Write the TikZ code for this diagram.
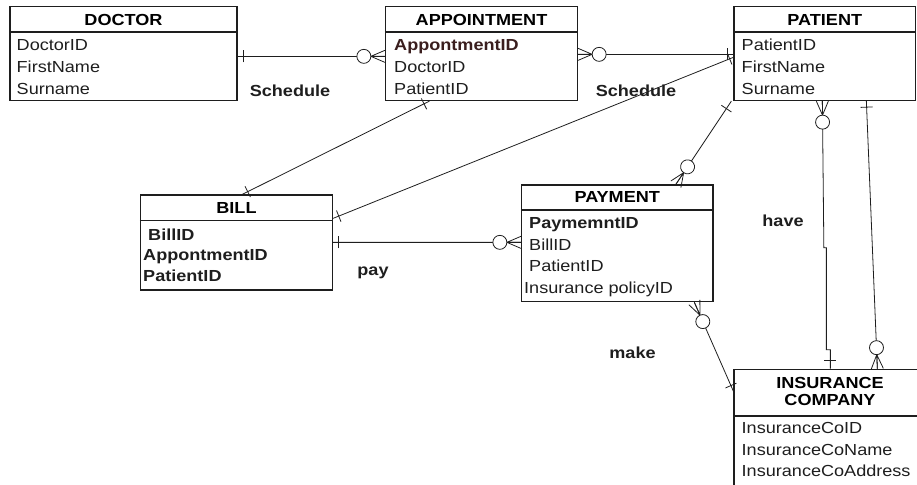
\documentclass[tikz,border=0pt]{standalone}
\usepackage{fontspec}
\setmainfont{Liberation Sans}[FakeStretch=1.13]
\usetikzlibrary{decorations.markings}

\definecolor{ink}{HTML}{1E1E1E}
\definecolor{keyred}{HTML}{3A1E1E}

\tikzset{
  entity/.style={draw=ink, line width=1.3pt, inner sep=0pt},
  divider/.style={draw=ink, line width=1.3pt},
  title/.style={font=\fontsize{16}{17.4}\selectfont\bfseries, anchor=base, inner sep=0pt},
  attrs/.style={anchor=base west, align=left, inner sep=0pt, text=ink},
  relname/.style={font=\fontsize{16}{19}\selectfont\bfseries, anchor=base, inner sep=0pt, text=ink},
  rel/.style={draw=ink, line width=0.8pt},
  one start/.style={postaction={decorate,decoration={markings,
      mark=at position #1 with {\draw[rel] (0,-6pt) -- (0,6pt);}}}},
  one start/.default=6pt,
  one end/.style={postaction={decorate,decoration={markings,
      mark=at position -#1 with {\draw[rel] (0,-6pt) -- (0,6pt);}}}},
  one end/.default=6pt,
  many start/.style={postaction={decorate,decoration={markings,
      mark=at position 14pt with {\draw[rel] (-14pt,-6pt) -- (0,0) -- (-14pt,6pt) (-14pt,0) -- (0,0);
        \draw[rel,fill=white] (7pt,0) circle (7pt);}}}},
  many end/.style={postaction={decorate,decoration={markings,
      mark=at position -14pt with {\draw[rel] (14pt,-6pt) -- (0,0) -- (14pt,6pt) (14pt,0) -- (0,0);
        \draw[rel,fill=white] (-7pt,0) circle (7pt);}}}}
}

\begin{document}
\begin{tikzpicture}[x=1pt,y=-1pt,font=\fontsize{16}{21.7}\selectfont]
  \useasboundingbox (0,0) rectangle (917,484);

  % entities (attribute lists sit on their last baseline)
  \node[entity, minimum width=227pt, minimum height=94pt] (doctor) at (123.5,53.5) {};
  \draw[divider] (doctor.west |- 0,32) -- (doctor.east |- 0,32);
  \node[title] (doctor-title) at (123.5,26) {DOCTOR};
  \node[attrs] (doctor-attrs) at (16.5,94.4) {DoctorID\\FirstName\\Surname};

  \node[entity, minimum width=192pt, minimum height=94pt] (appointment) at (481.5,53.5) {};
  \draw[divider] (appointment.west |- 0,32) -- (appointment.east |- 0,32);
  \node[title] (appointment-title) at (481.5,26) {APPOINTMENT};
  \node[attrs] (appointment-attrs) at (394,94.4)
    {\textcolor{keyred}{\bfseries AppontmentID}\\DoctorID\\PatientID};

  \node[entity, minimum width=181.5pt, minimum height=94pt] (patient) at (824.75,53.5) {};
  \draw[divider] (patient.west |- 0,32) -- (patient.east |- 0,32);
  \node[title] (patient-title) at (824.75,26) {PATIENT};
  \node[attrs] (patient-attrs) at (741.5,94.4) {PatientID\\FirstName\\Surname};

  \node[entity, minimum width=192pt, minimum height=95pt] (bill) at (236.5,242.5) {};
  \draw[divider] (bill.west |- 0,220.7) -- (bill.east |- 0,220.7);
  \node[title] (bill-title) at (236.5,213) {BILL};
  \node[attrs, font=\fontsize{16}{20.8}\selectfont\bfseries] (bill-attrs) at (143,281.6)
    {\hspace*{5pt}BillID\\AppontmentID\\PatientID};

  \node[entity, minimum width=191.5pt, minimum height=116.7pt] (payment) at (617.25,243.35) {};
  \draw[divider] (payment.west |- 0,210) -- (payment.east |- 0,210);
  \node[title] (payment-title) at (617.25,202.7) {PAYMENT};
  \node[attrs] (payment-attrs) at (529,293.4)
    {{\bfseries PaymemntID}\\BillID\\PatientID\\\hspace*{-5pt}Insurance policyID};

  \node[entity, minimum width=196pt, minimum height=130.7pt] (insurance) at (832,434.65) {};
  \draw[divider] (insurance.west |- 0,416) -- (insurance.east |- 0,416);
  \node[title, align=center] (insurance-title) at (830,405.7) {INSURANCE\\COMPANY};
  \node[attrs] (insurance-attrs) at (741.5,476.7)
    {InsuranceCoID\\InsuranceCoName\\InsuranceCoAddress};

  % relationship names
  \node[relname] (schedule-a) at (290,96.7) {Schedule};
  \node[relname] (schedule-b) at (636,97) {Schedule};
  \node[relname] (pay) at (373,275) {pay};
  \node[relname] (have) at (783,226) {have};
  \node[relname] (make) at (632.5,358) {make};

  % relationships
  \draw[rel, one start, many end] ([yshift=-50.5pt]doctor.north east) -- ([yshift=-50.5pt]appointment.north west);
  \draw[rel, many start, one end] ([yshift=-48.5pt]appointment.north east) -- ([yshift=-48.5pt]patient.north west);
  \draw[rel, one start, one end] ([xshift=44.5pt]appointment.south west) -- ([xshift=102.5pt]bill.north west);
  \draw[rel, one start=4pt, one end] ([yshift=-51.5pt]patient.north west) -- ([yshift=-24pt]bill.north east);
  \draw[rel, one start=5pt, many end] ([yshift=-48pt]bill.north east) -- ([yshift=-58pt]payment.north west);
  \draw[rel, one start=9pt, many end] ([xshift=-2pt]patient.south west) -- ([xshift=155pt]payment.north west);
  \draw[rel, many start, one end=8pt] ([xshift=89pt]patient.south west)
    -- ++(1.5,146.5) -- ++(2.5,0) -- ++(0,102) -- ++(4,0) -- ([xshift=97pt]insurance.north west);
  \draw[rel, one start, many end] ([xshift=133pt]patient.south west) -- ([xshift=144pt]insurance.north west);
  \draw[rel, many start, one end] ([xshift=173.5pt]payment.south west) -- ([yshift=-22.5pt]insurance.north west);
\end{tikzpicture}
\end{document}
